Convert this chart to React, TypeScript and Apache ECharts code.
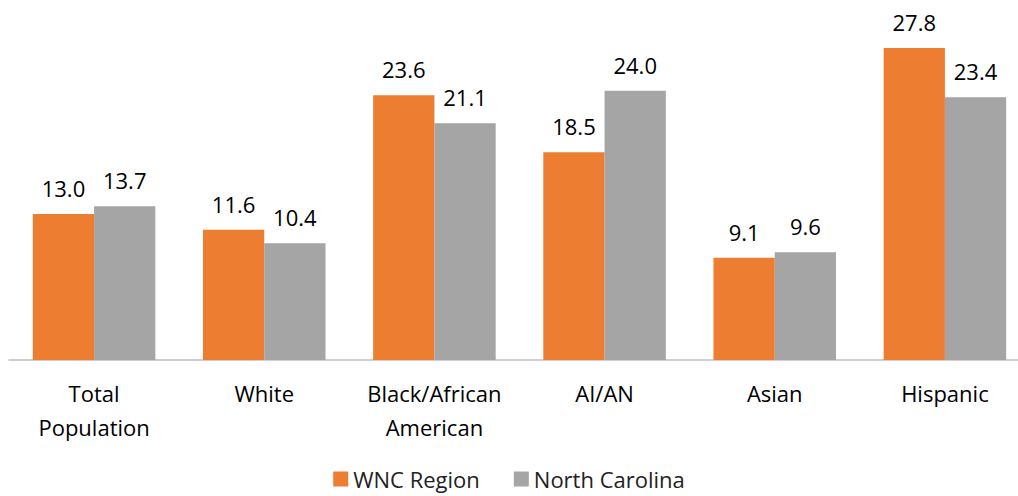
import React, { useEffect, useRef } from "react";
import * as echarts from "echarts";

const categories = ["Total\nPopulation", "White", "Black/African\nAmerican", "AI/AN", "Asian", "Hispanic"];
const wncValues = [13.0, 11.6, 23.6, 18.5, 9.1, 27.8];
const ncValues = [13.7, 10.4, 21.1, 24.0, 9.6, 23.4];
const seriesNames = ["WNC Region", "North Carolina"];

const FONT = "'Open Sans', 'Noto Sans', sans-serif";
const FS = 22;

export default function App() {
  const ref = useRef<HTMLDivElement>(null);

  useEffect(() => {
    if (!ref.current) return;
    const chart = echarts.init(ref.current, undefined, { renderer: "svg" });
    const label = {
      show: true,
      position: "top" as const,
      distance: 15,
      fontFamily: FONT,
      fontSize: FS,
      color: "#000",
      formatter: (p: any) => Number(p.value).toFixed(1),
    };
    chart.setOption({
      animation: false,
      grid: {
        left: 9,
        top: 23.3,
        width: 1021,
        height: 336.7,
        containLabel: false,
        outerBoundsMode: "none",
      },
      legend: {
        bottom: 1,
        left: "center",
        itemWidth: 15,
        itemHeight: 15,
        itemGap: 34,
        icon: "rect",
        textStyle: { fontFamily: FONT, fontSize: FS, color: "#222" },
        data: seriesNames,
      },
      xAxis: {
        type: "category",
        data: categories,
        axisLine: { lineStyle: { color: "#BFBFBF", width: 1.5 } },
        axisTick: { show: false },
        axisLabel: {
          interval: 0,
          margin: 16,
          fontFamily: FONT,
          fontSize: FS,
          lineHeight: 34,
          color: "#000",
        },
      },
      yAxis: {
        type: "value",
        min: 0,
        max: 30,
        show: false,
        splitLine: { show: false },
      },
      series: [
        {
          name: seriesNames[0],
          type: "bar",
          data: wncValues,
          barWidth: "36%",
          barGap: "0%",
          itemStyle: { color: "#ED7D31" },
          label,
        },
        {
          name: seriesNames[1],
          type: "bar",
          data: ncValues,
          barWidth: "36%",
          itemStyle: { color: "#A5A5A5" },
          label,
        },
      ],
    });
    return () => chart.dispose();
  }, []);

  return (
    <div
      ref={ref}
      style={{ position: "fixed", left: 0, top: 0, width: 1018, height: 496, background: "#fff" }}
    />
  );
}
